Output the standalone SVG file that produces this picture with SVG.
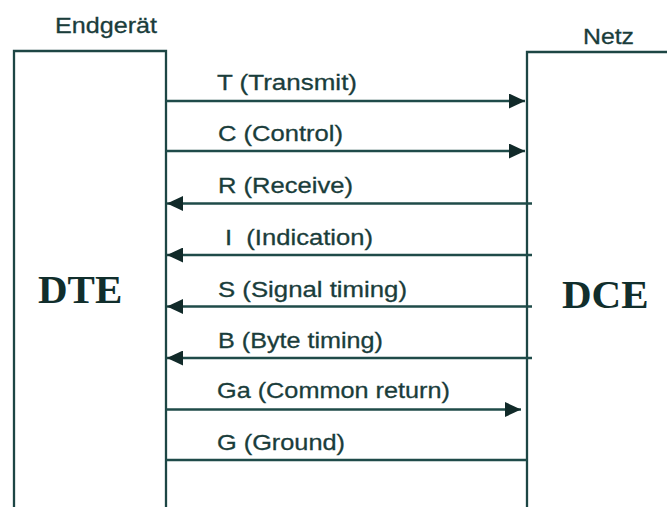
<svg xmlns="http://www.w3.org/2000/svg" width="667" height="507" viewBox="0 0 667 507">
<defs>
<style>
.box{fill:none;stroke:#1d4644;stroke-width:2.3}
.ln{fill:none;stroke:#1f4b49;stroke-width:2.5}
.lbl{font-family:"Liberation Sans",Arial,sans-serif;font-size:22.5px;fill:#1a3d3b;stroke:#1a3d3b;stroke-width:0.3}
.big{font-family:"Liberation Serif","Times New Roman",serif;font-size:41px;font-weight:bold;fill:#112e2c}
</style>
<marker id="ah" markerUnits="userSpaceOnUse" markerWidth="16" markerHeight="15" refX="16" refY="7.5" orient="auto">
<path d="M0,0 L16,7.5 L0,15 z" fill="#112a29"/>
</marker>
</defs>
<rect width="667" height="507" fill="#ffffff"/>
<g id="dte">
<path class="box" d="M14,512 V51 H166 V512"/>
<text class="lbl" x="55" y="33" textLength="102" lengthAdjust="spacingAndGlyphs">Endgerät</text>
<text class="big" x="38" y="303">DTE</text>
</g>
<g id="dce">
<path class="box" d="M527,512 V52 H672"/>
<text class="lbl" x="583" y="44" textLength="51" lengthAdjust="spacingAndGlyphs">Netz</text>
<text class="big" x="562" y="308">DCE</text>
</g>
<g id="connectors">
<line class="ln" x1="166" y1="101" x2="525" y2="101" marker-end="url(#ah)"/>
<line class="ln" x1="166" y1="151" x2="525" y2="151" marker-end="url(#ah)"/>
<line class="ln" x1="532" y1="203.5" x2="167" y2="203.5" marker-end="url(#ah)"/>
<line class="ln" x1="532" y1="255" x2="167" y2="255" marker-end="url(#ah)"/>
<line class="ln" x1="532" y1="306.5" x2="167" y2="306.5" marker-end="url(#ah)"/>
<line class="ln" x1="532" y1="358" x2="167" y2="358" marker-end="url(#ah)"/>
<line class="ln" x1="166" y1="409.5" x2="521" y2="409.5" marker-end="url(#ah)"/>
<line class="ln" x1="166" y1="460" x2="527" y2="460"/>
</g>
<g id="labels">
<text class="lbl" x="217" y="90" textLength="140" lengthAdjust="spacingAndGlyphs">T (Transmit)</text>
<text class="lbl" x="218" y="141" textLength="125" lengthAdjust="spacingAndGlyphs">C (Control)</text>
<text class="lbl" x="218" y="193" textLength="135" lengthAdjust="spacingAndGlyphs">R (Receive)</text>
<text class="lbl" x="225" y="245" textLength="148" lengthAdjust="spacingAndGlyphs" style="white-space:pre">I  (Indication)</text>
<text class="lbl" x="218" y="297" textLength="189" lengthAdjust="spacingAndGlyphs">S (Signal timing)</text>
<text class="lbl" x="218" y="348" textLength="165" lengthAdjust="spacingAndGlyphs">B (Byte timing)</text>
<text class="lbl" x="217" y="398" textLength="233" lengthAdjust="spacingAndGlyphs">Ga (Common return)</text>
<text class="lbl" x="217" y="450" textLength="128" lengthAdjust="spacingAndGlyphs">G (Ground)</text>
</g>
</svg>
